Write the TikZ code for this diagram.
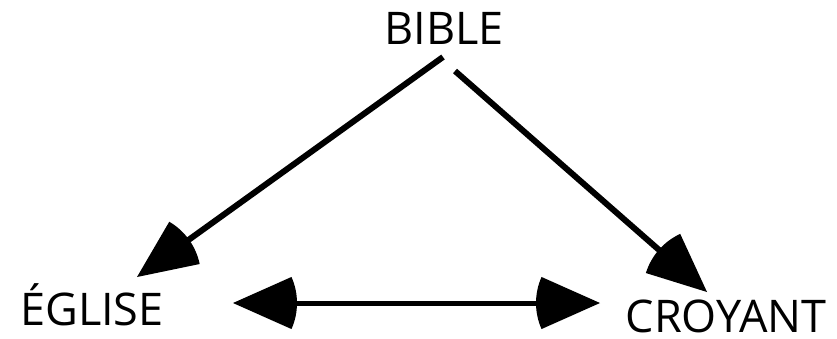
\documentclass[tikz,border=0pt]{standalone}
\usepackage{fontspec}
\setmainfont{Open Sans}
\usetikzlibrary{calc}
\newcommand\wedgehead[2]{%
  \fill let \p1=($(#2)-(#1)$), \n1={atan2(\y1,\x1)} in
    (#1) -- ++(\n1+24:64pt) arc[start angle=\n1+24, end angle=\n1-24, radius=64pt] -- cycle;}
\begin{document}
\begin{tikzpicture}[x=1pt,y=-1pt,
  lbl/.style={font=\fontsize{45}{48}\selectfont, inner sep=0pt, anchor=base},
  conn/.style={line width=6pt},
  hconn/.style={line width=5pt}]
\useasboundingbox (0,0) rectangle (837,338);
\node[lbl] (bible) at (444,44) {BIBLE};
\node[lbl] (eglise) at (92,325) {ÉGLISE};
\node[lbl] (croyant) at (726,332) {CROYANT};
\coordinate (b1) at (443,57);
\coordinate (e1) at (137,277);
\coordinate (b2) at (455,71);
\coordinate (c2) at (707,292);
\coordinate (eh) at (233,303);
\coordinate (ch) at (600,303);
\draw[conn] (b1) -- ($(e1)!20pt!(b1)$);
\wedgehead{e1}{b1}
\draw[conn] (b2) -- ($(c2)!20pt!(b2)$);
\wedgehead{c2}{b2}
\draw[hconn] ($(eh)!30pt!(ch)$) -- ($(ch)!30pt!(eh)$);
\wedgehead{eh}{ch}
\wedgehead{ch}{eh}
\end{tikzpicture}
\end{document}
